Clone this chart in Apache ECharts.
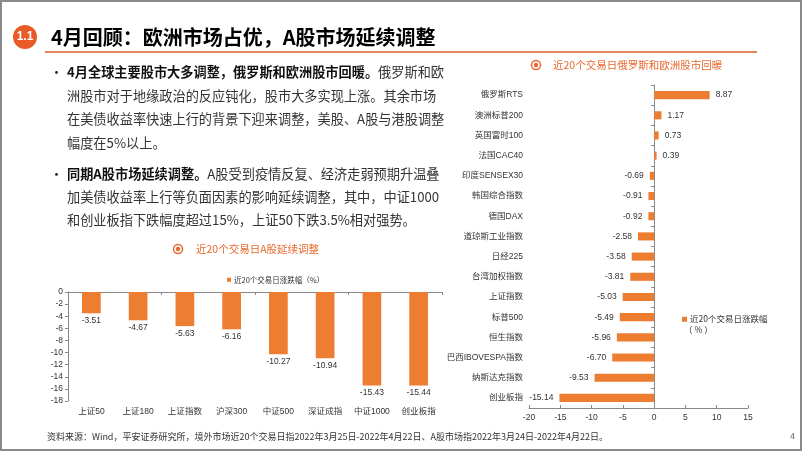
<!DOCTYPE html>
<html><head><meta charset="utf-8">
<script src="https://cdn.jsdelivr.net/npm/echarts@6/dist/echarts.min.js"></script>
<style>html,body{margin:0;padding:0;background:#fff}#c{width:802px;height:451px}</style>
</head><body><div id="c"></div>
<script>
// ---- data ----
const aCategories = ['上证50','上证180','上证指数','沪深300','中证500','深证成指','中证1000','创业板指'];
const aValues = [-3.51,-4.67,-5.63,-6.16,-10.27,-10.94,-15.43,-15.44];
const gCategories = ['俄罗斯RTS','澳洲标普200','英国富时100','法国CAC40','印度SENSEX30','韩国综合指数','德国DAX','道琼斯工业指数','日经225','台湾加权指数','上证指数','标普500','恒生指数','巴西IBOVESPA指数','纳斯达克指数','创业板指'];
const gValues = [8.87,1.17,0.73,0.39,-0.69,-0.91,-0.92,-2.58,-3.58,-3.81,-5.03,-5.49,-5.96,-6.70,-9.53,-15.14];
const seriesName = '近20个交易日涨跌幅（%）';
const seriesNameR = '近20个交易日涨跌幅';
const titleText = '4月回顾：欧洲市场占优，A股市场延续调整';
const leftChartTitle = '近20个交易日A股延续调整';
const rightChartTitle = '近20个交易日俄罗斯和欧洲股市回暖';
const sourceText = '资料来源：Wind，平安证券研究所，境外市场近20个交易日指2022年3月25日-2022年4月22日、A股市场指2022年3月24日-2022年4月22日。';
const bodyLines = [
  ['4月全球主要股市大多调整，俄罗斯和欧洲股市回暖。','俄罗斯和欧'],
  ['','洲股市对于地缘政治的反应钝化，股市大多实现上涨。其余市场'],
  ['','在美债收益率快速上行的背景下迎来调整，美股、A股与港股调整'],
  ['','幅度在5%以上。'],
  ['同期A股市场延续调整。','A股受到疫情反复、经济走弱预期升温叠'],
  ['','加美债收益率上行等负面因素的影响延续调整，其中，中证1000'],
  ['','和创业板指下跌幅度超过15%，上证50下跌3.5%相对强势。']
];
// ---- end data ----

const FONT = "'Liberation Sans','Noto Sans CJK SC',sans-serif";
const CJK = "'Noto Sans CJK SC',sans-serif";
const ORANGE = '#ED7D31';
const TORANGE = '#E8692E';

const chart = echarts.init(document.getElementById('c'), null, {renderer:'canvas'});

const lineY = [72, 96, 119, 143, 174, 197, 220];
const graphics = [
  {type:'rect', shape:{x:1,y:1,width:800,height:449}, style:{fill:'none', stroke:'#8a8a8a', lineWidth:2}},
  {type:'circle', shape:{cx:25,cy:37,r:12}, style:{fill:'#EA5A27'}},
  {type:'text', x:25, y:37, style:{text:'1.1', fill:'#fff', font:"bold 12px 'Liberation Sans',sans-serif", textAlign:'center', textVerticalAlign:'middle'}},
  {type:'text', x:51, y:37, style:{text:titleText, fill:'#000', font:"bold 20px "+CJK, textVerticalAlign:'middle'}},
  {type:'line', shape:{x1:45,y1:52,x2:757,y2:52}, style:{stroke:'#E8825A', lineWidth:2}},
  // chart titles
  {type:'circle', shape:{cx:536,cy:65,r:4.5}, style:{fill:'none', stroke:TORANGE, lineWidth:1.5}},
  {type:'circle', shape:{cx:536,cy:65,r:2.2}, style:{fill:TORANGE}},
  {type:'text', x:553, y:65, style:{text:rightChartTitle, fill:TORANGE, font:"10.5px "+CJK, textVerticalAlign:'middle'}},
  {type:'circle', shape:{cx:178,cy:249,r:4.5}, style:{fill:'none', stroke:TORANGE, lineWidth:1.5}},
  {type:'circle', shape:{cx:178,cy:249,r:2.2}, style:{fill:TORANGE}},
  {type:'text', x:196, y:249, style:{text:leftChartTitle, fill:TORANGE, font:"10.5px "+CJK, textVerticalAlign:'middle'}},
  // right legend 2nd line
  {type:'text', x:684, y:330, style:{text:'（ % ）', fill:'#333', font:"8.5px "+CJK, textVerticalAlign:'middle'}},
  // footer
  {type:'text', x:47, y:437, style:{text:sourceText, fill:'#333', font:"9px "+CJK, textVerticalAlign:'middle'}},
  {type:'text', x:790, y:437, style:{text:'4', fill:'#666', font:"9px 'Liberation Sans',sans-serif", textVerticalAlign:'middle'}}
];
// bullets
[72,174].forEach(y => graphics.push({type:'text', x:50, y:y, style:{text:'•', fill:'#222', font:"13px "+CJK, textVerticalAlign:'middle'}}));
bodyLines.forEach((ln, i) => {
  const parts = [];
  if (ln[0]) parts.push('{b|' + ln[0] + '}');
  if (ln[1]) parts.push('{n|' + ln[1] + '}');
  graphics.push({type:'text', x:67, y:lineY[i], style:{
    text: parts.join(''), textVerticalAlign:'middle',
    rich:{ b:{font:"bold 13.2px "+CJK, fill:'#111'}, n:{font:"13.2px "+CJK, fill:'#333'} }
  }});
});

const option = {
  animation:false,
  textStyle:{fontFamily:FONT},
  legend:[
    {data:[seriesName], left:222, top:271, itemWidth:4, itemHeight:4, itemGap:2, icon:'rect',
     textStyle:{fontSize:7.5, color:'#333', fontFamily:CJK, padding:[0,0,0,-2]}},
    {data:[seriesNameR], left:677, top:310, itemWidth:5, itemHeight:5, icon:'rect',
     textStyle:{fontSize:8.5, color:'#333', fontFamily:CJK, padding:[0,0,0,-2]}}
  ],
  grid:[
    {left:68, right:360, top:292, bottom:50},
    {left:529, right:54, top:85, bottom:43}
  ],
  xAxis:[
    {gridIndex:0, type:'category', data:aCategories, position:'top',
     axisLine:{show:true, lineStyle:{color:'#888'}}, axisTick:{show:true, inside:true, length:3, lineStyle:{color:'#888'}},
     axisLabel:{show:false}, splitLine:{show:false}},
    {gridIndex:0, type:'category', data:aCategories, position:'bottom',
     axisLine:{show:false, onZero:false}, axisTick:{show:false},
     axisLabel:{show:true, fontSize:8.5, color:'#333', margin:6, fontFamily:FONT}},
    {gridIndex:1, type:'value', min:-20, max:15, interval:5, position:'bottom',
     axisLine:{show:true, lineStyle:{color:'#888'}}, axisTick:{show:true, length:3, inside:true, lineStyle:{color:'#888'}},
     axisLabel:{fontSize:8.5, color:'#333', margin:5}, splitLine:{show:false}}
  ],
  yAxis:[
    {gridIndex:0, type:'value', min:-18, max:0, interval:2,
     axisLine:{show:true, lineStyle:{color:'#888'}}, axisTick:{show:true, length:3, lineStyle:{color:'#888'}},
     axisLabel:{fontSize:8.5, color:'#333', margin:5}, splitLine:{show:false}},
    {gridIndex:1, type:'category', data:gCategories, inverse:true,
     axisLine:{show:false, onZero:false}, axisTick:{show:false},
     axisLabel:{fontSize:8.5, color:'#333', margin:6, fontFamily:FONT}},
    {gridIndex:1, type:'category', data:gCategories, inverse:true,
     axisLine:{show:true, onZero:true, lineStyle:{color:'#888'}}, axisTick:{show:true, inside:true, length:3, lineStyle:{color:'#888'}},
     axisLabel:{show:false}}
  ],
  series:[
    {name:seriesName, type:'bar', xAxisIndex:0, yAxisIndex:0, data:aValues, barWidth:'40%',
     itemStyle:{color:ORANGE},
     label:{show:true, position:'bottom', distance:3, fontSize:8.5, color:'#333', fontFamily:FONT,
            formatter:p => Number(p.value).toFixed(2)}},
    {name:seriesNameR, type:'bar', xAxisIndex:2, yAxisIndex:2, barWidth:'40%',
     data:gValues.map(v => ({value:v, label:{position: v >= 0 ? 'right' : 'left'}})),
     itemStyle:{color:ORANGE},
     label:{show:true, distance:6, fontSize:8.5, color:'#333', fontFamily:FONT,
            formatter:p => Number(p.value).toFixed(2)}}
  ],
  graphic:graphics
};
chart.setOption(option);
</script></body></html>
